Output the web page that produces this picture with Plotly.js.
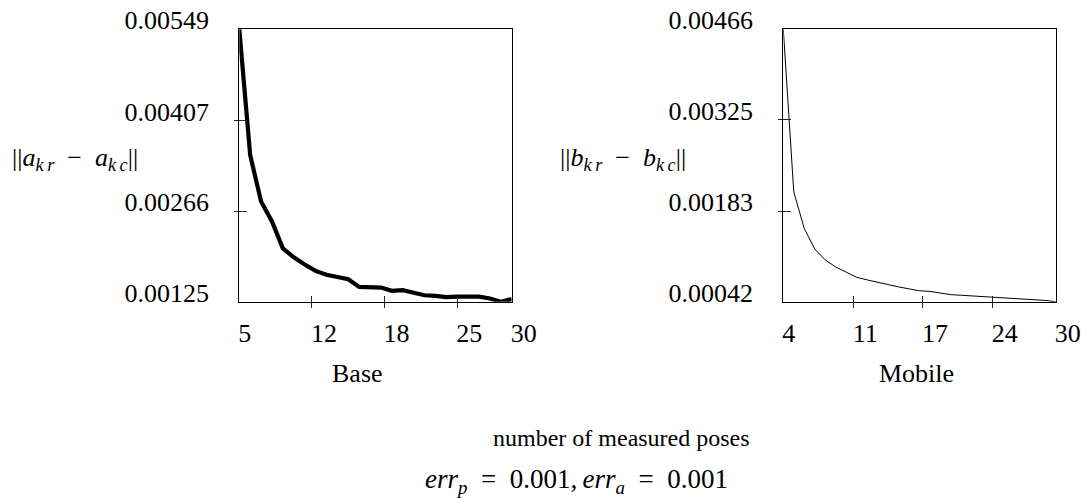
<!DOCTYPE html>
<html>
<head>
<meta charset="utf-8">
<script src="https://cdn.plot.ly/plotly-3.0.1.min.js"></script>
<style>html,body{margin:0;padding:0;background:#fff;}#chart{width:1087px;height:498px;}</style>
</head>
<body>
<div id="chart"></div>
<script>
// ---- data ----
const baseX = [5,6,7,8,9,10,11,12,13,14,15,16,17,18,19,20,21,22,23,24,25,26,27,28,29,30];
const baseY = [0.00549,0.00353,0.00281,0.00250,0.00208,0.00194,0.00183,0.00173,0.00167,0.00163,0.00160,0.00148,0.00148,0.00147,0.00142,0.00143,0.00139,0.00135,0.00134,0.00132,0.00133,0.00133,0.00133,0.00130,0.00125,0.00129];
const mobileX = [4,5,6,7,8,9,10,11,12,13,14,15,16,17,18,19,20,21,22,23,24,25,26,27,28,29,30];
const mobileY = [0.00466,0.00213,0.00156,0.00124,0.00107,0.00096,0.00088,0.00080,0.00076,0.00072,0.00068,0.00065,0.00062,0.00059,0.00058,0.00055,0.00053,0.00052,0.00051,0.00050,0.00050,0.00049,0.00048,0.00046,0.00045,0.00044,0.00042];

const baseXTickVals = [5, 11.667, 18.333, 25, 30];
const baseXTickText = ['5\u2007','12','18','25','30'];
const mobileXTickVals = [4, 10.667, 17.333, 24, 30];
const mobileXTickText = ['4\u2007','11','17','24','30'];
const baseYTickVals = [0.00125, 0.00266, 0.00407, 0.00549];
const baseYTickText = ['0.00125','0.00266','0.00407','0.00549'];
const mobileYTickVals = [0.00042, 0.00183, 0.00325, 0.00466];
const mobileYTickText = ['0.00042','0.00183','0.00325','0.00466'];

// ---- layout geometry ----
const W = 1087, H = 498;
const px = v => v / W;
const py = v => (H - v) / H;
const yDom = [py(301.7), py(29.3)];
const lDom = [px(239.3), px(511.7)];
const rDom = [px(783.3), px(1055.7)];

const FONT = 'Liberation Serif, Times New Roman, serif';

function mainX(dom, range, vals, text, anchor) {
  return {domain: dom, range: range, anchor: anchor, tickvals: vals, ticktext: text,
    ticks: '', showline: true, mirror: true, linecolor: '#000', linewidth: 1,
    showgrid: false, zeroline: false, tickfont: {size: 26, family: FONT, color: '#000'},
    ticklabelshift: 12, ticklabelstandoff: 8, fixedrange: true};
}
function mainY(dom, range, vals, text, anchor) {
  return {domain: dom, range: range, anchor: anchor, tickvals: vals, ticktext: text,
    ticks: '', showline: true, mirror: true, linecolor: '#000', linewidth: 1,
    showgrid: false, zeroline: false, tickfont: {size: 26, family: FONT, color: '#000'},
    ticklabelshift: -9, ticklabelstandoff: 24, fixedrange: true};
}
function tickX(over, range, vals) {
  return {overlaying: over, anchor: 'free', position: py(301.7 + 6), side: 'bottom',
    range: range, tickvals: vals, ticks: 'inside', ticklen: 12, tickwidth: 1, tickcolor: '#222',
    showticklabels: false, showline: false, showgrid: false, zeroline: false, fixedrange: true};
}
function tickY(over, range, vals, xpos) {
  return {overlaying: over, anchor: 'free', position: px(xpos - 6.5), side: 'left',
    range: range, tickvals: vals, ticks: 'inside', ticklen: 13, tickwidth: 1, tickcolor: '#222',
    showticklabels: false, showline: false, showgrid: false, zeroline: false, fixedrange: true};
}

const baseXR = [5, 30], baseYR = [0.00125, 0.00549];
const mobXR = [4, 30], mobYR = [0.00042, 0.00466];

const traces = [
  {x: baseX, y: baseY, xaxis: 'x', yaxis: 'y', type: 'scatter', mode: 'lines',
   line: {color: '#000', width: 4.2}, hoverinfo: 'skip'},
  {x: mobileX, y: mobileY, xaxis: 'x2', yaxis: 'y2', type: 'scatter', mode: 'lines',
   line: {color: '#000', width: 1}, hoverinfo: 'skip'},
  // carriers for the crossing tick-mark axes (not visible)
  {x: baseX, y: baseY, xaxis: 'x3', yaxis: 'y3', type: 'scatter', mode: 'lines',
   line: {color: 'rgba(0,0,0,0)', width: 0}, opacity: 0, hoverinfo: 'skip'},
  {x: mobileX, y: mobileY, xaxis: 'x4', yaxis: 'y4', type: 'scatter', mode: 'lines',
   line: {color: 'rgba(0,0,0,0)', width: 0}, opacity: 0, hoverinfo: 'skip'}
];

const annFont = s => ({family: FONT, size: s, color: '#000'});
const layout = {
  width: W, height: H, margin: {l: 0, r: 0, t: 0, b: 0},
  paper_bgcolor: '#fff', plot_bgcolor: '#fff', showlegend: false,
  font: {family: FONT, color: '#000'},
  xaxis: mainX(lDom, baseXR, baseXTickVals, baseXTickText, 'y'),
  yaxis: mainY(yDom, baseYR, baseYTickVals, baseYTickText, 'x'),
  xaxis2: mainX(rDom, mobXR, mobileXTickVals, mobileXTickText, 'y2'),
  yaxis2: mainY(yDom, mobYR, mobileYTickVals, mobileYTickText, 'x2'),
  xaxis3: tickX('x', baseXR, baseXTickVals.slice(1, -1)),
  yaxis3: tickY('y', baseYR, baseYTickVals.slice(1, -1), 239.3),
  xaxis4: tickX('x2', mobXR, mobileXTickVals.slice(1, -1)),
  yaxis4: tickY('y2', mobYR, mobileYTickVals.slice(1, -1), 783.3),
  annotations: [
    {xref: 'paper', yref: 'paper', x: px(10), y: py(159), xanchor: 'left', yanchor: 'middle',
     showarrow: false, font: annFont(26),
     text: '||<i>a</i><sub><i>k\u2009r</i></sub>\u2002−\u2002<i>a</i><sub><i>k\u2009c</i></sub>||'},
    {xref: 'paper', yref: 'paper', x: px(558), y: py(159), xanchor: 'left', yanchor: 'middle',
     showarrow: false, font: annFont(26),
     text: '||<i>b</i><sub><i>k\u2009r</i></sub>\u2002−\u2002<i>b</i><sub><i>k\u2009c</i></sub>||'},
    {xref: 'paper', yref: 'paper', x: px(357.5), y: py(373), xanchor: 'center', yanchor: 'middle',
     showarrow: false, font: annFont(26), text: 'Base'},
    {xref: 'paper', yref: 'paper', x: px(916), y: py(373), xanchor: 'center', yanchor: 'middle',
     showarrow: false, font: annFont(26), text: 'Mobile'},
    {xref: 'paper', yref: 'paper', x: px(621), y: py(438), xanchor: 'center', yanchor: 'middle',
     showarrow: false, font: annFont(24), text: 'number of measured poses'},
    {xref: 'paper', yref: 'paper', x: px(576), y: py(481), xanchor: 'center', yanchor: 'middle',
     showarrow: false, font: annFont(27),
     text: '<i>err</i><sub><i>p</i></sub>\u2002=\u20020.001,\u2009<i>err</i><sub><i>a</i></sub>\u2002=\u20020.001'}
  ]
};

Plotly.newPlot('chart', traces, layout, {staticPlot: true, displayModeBar: false});
</script>
</body>
</html>
